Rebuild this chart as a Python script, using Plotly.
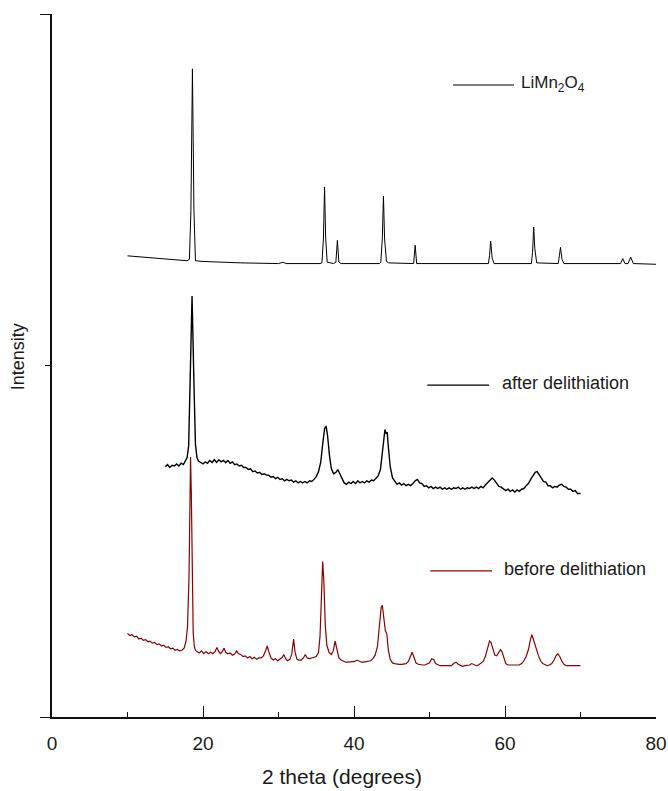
import plotly.graph_objects as go

# ---- XRD patterns (2-theta in degrees, intensity in stacked arbitrary units) ----

limn2o4_x = [10.0, 12.0, 14.0, 16.0, 17.9, 18.2, 18.4, 18.6, 18.8, 19.0, 20.0, 25.0,
             30.0, 30.6, 31.0, 35.5, 35.75, 35.95, 36.1, 36.25, 36.45, 37.3, 37.6, 37.8,
             38.0, 38.3, 43.4, 43.55, 43.75, 43.9, 44.05, 44.3, 44.6, 47.9, 48.1, 48.3,
             57.8, 57.95, 58.1, 58.3, 58.55, 63.5, 63.65, 63.8, 63.95, 64.2, 67.05, 67.2,
             67.35, 67.55, 67.8, 75.3, 75.6, 75.9, 76.3, 76.65, 77.0, 80.0]
limn2o4_y = [65.6, 65.4, 65.2, 65.0, 64.9, 65.1, 72.0, 92.2, 72.0, 64.9, 64.8, 64.6,
             64.5, 64.7, 64.5, 64.5, 64.6, 68.0, 75.4, 68.0, 64.7, 64.5, 64.7, 67.8,
             64.7, 64.5, 64.5, 64.7, 68.0, 74.1, 68.0, 64.8, 64.6, 64.5, 67.1, 64.5,
             64.5, 65.6, 67.7, 65.3, 64.5, 64.5, 66.1, 69.7, 66.6, 64.6, 64.5, 65.6,
             66.8, 65.1, 64.5, 64.5, 65.2, 64.5, 64.5, 65.4, 64.5, 64.4]

after_x = [15.0, 15.3, 15.6, 15.9, 16.2, 16.5, 16.8, 17.1, 17.4, 17.7, 17.9, 18.1,
           18.3, 18.55, 18.8, 19.0, 19.2, 19.4, 19.7, 20.0, 20.3, 20.6, 20.9, 21.2,
           21.5, 21.8, 22.1, 22.4, 22.7, 23.0, 23.3, 23.6, 23.9, 24.2, 24.5, 24.8,
           25.1, 25.4, 25.7, 26.0, 26.3, 26.6, 26.9, 27.2, 27.5, 27.8, 28.1, 28.4,
           28.7, 29.0, 29.3, 29.6, 29.9, 30.2, 30.5, 30.8, 31.1, 31.4, 31.7, 32.0,
           32.3, 32.6, 32.9, 33.2, 33.5, 33.8, 34.1, 34.4, 34.7, 35.0, 35.3, 35.6,
           35.85, 36.1, 36.3, 36.5, 36.75, 37.0, 37.3, 37.6, 37.85, 38.1, 38.4, 38.7,
           39.0, 39.3, 39.6, 39.9, 40.2, 40.5, 40.8, 41.1, 41.4, 41.7, 42.0, 42.3,
           42.6, 42.9, 43.2, 43.5, 43.75, 43.95, 44.1, 44.25, 44.4, 44.55, 44.8, 45.1,
           45.4, 45.7, 46.0, 46.3, 46.6, 46.9, 47.2, 47.5, 47.8, 48.1, 48.4, 48.7,
           49.0, 49.3, 49.6, 49.9, 50.2, 50.5, 50.8, 51.1, 51.4, 51.7, 52.0, 52.3,
           52.6, 52.9, 53.2, 53.5, 53.8, 54.1, 54.4, 54.7, 55.0, 55.3, 55.6, 55.9,
           56.2, 56.5, 56.8, 57.1, 57.4, 57.7, 58.0, 58.3, 58.6, 58.9, 59.2, 59.5,
           59.8, 60.1, 60.4, 60.7, 61.0, 61.3, 61.6, 61.9, 62.2, 62.5, 62.8, 63.1,
           63.4, 63.7, 64.0, 64.25, 64.5, 64.8, 65.1, 65.4, 65.7, 66.0, 66.3, 66.6,
           66.9, 67.2, 67.5, 67.8, 68.1, 68.4, 68.7, 69.0, 69.3, 69.6, 70.0]
after_y = [35.6, 35.9, 35.5, 35.8, 35.7, 36.0, 35.7, 36.1, 35.9, 36.4, 36.9, 38.6,
           47.0, 59.9, 47.5, 38.8, 36.9, 36.4, 36.2, 36.0, 36.3, 36.1, 36.5, 36.2,
           36.6, 36.2, 36.6, 36.3, 36.5, 36.2, 36.5, 36.1, 36.3, 35.9, 36.0, 35.7,
           35.8, 35.5, 35.5, 35.2, 35.3, 34.9, 35.0, 34.7, 34.8, 34.5, 34.6, 34.4,
           34.4, 34.1, 34.2, 33.9, 34.1, 33.8, 33.9, 33.6, 33.8, 33.6, 33.7, 33.4,
           33.6, 33.3, 33.5, 33.3, 33.5, 33.3, 33.6, 33.5, 33.8, 34.2, 34.9, 36.3,
           38.8, 41.0, 41.4, 40.0, 37.2, 35.3, 34.6, 34.8, 35.2, 34.7, 33.9, 33.3,
           33.1, 33.4, 33.2, 33.5, 33.2, 33.6, 33.3, 33.5, 33.3, 33.6, 33.4, 33.7,
           33.6, 33.9, 34.3, 35.2, 37.3, 39.8, 40.9, 40.3, 40.5, 38.4, 35.6, 34.0,
           33.5, 33.1, 33.3, 33.0, 33.2, 32.9, 33.1, 32.9, 33.2, 33.6, 33.8, 33.3,
           33.2, 32.8, 32.9, 32.6, 32.8, 32.5, 32.7, 32.5, 32.7, 32.4, 32.6, 32.4,
           32.6, 32.4, 32.6, 32.5, 32.7, 32.4, 32.6, 32.4, 32.6, 32.5, 32.7, 32.5,
           32.7, 32.5, 32.8, 32.6, 33.0, 33.3, 33.7, 34.0, 33.7, 33.2, 32.8, 32.7,
           32.4, 32.2, 32.4, 32.1, 32.3, 32.0, 32.3, 32.1, 32.4, 32.5, 32.9, 33.2,
           33.8, 34.4, 34.8, 34.9, 34.5, 34.1, 33.5, 33.4, 32.9, 32.9, 32.6, 32.8,
           32.7, 33.0, 33.1, 32.8, 32.7, 32.4, 32.4, 32.1, 32.2, 31.8, 31.8]

before_x = [10.0, 10.3, 10.6, 10.9, 11.2, 11.5, 11.8, 12.1, 12.4, 12.7, 13.0, 13.3,
            13.6, 13.9, 14.2, 14.5, 14.8, 15.1, 15.4, 15.7, 16.0, 16.3, 16.6, 16.9,
            17.2, 17.5, 17.75, 17.95, 18.15, 18.25, 18.35, 18.45, 18.55, 18.7, 18.85, 19.0,
            19.2, 19.5, 19.8, 20.1, 20.4, 20.7, 21.0, 21.3, 21.6, 21.85, 22.05, 22.3,
            22.55, 22.8, 23.0, 23.3, 23.6, 23.9, 24.2, 24.45, 24.7, 25.0, 25.3, 25.6,
            25.9, 26.2, 26.5, 26.8, 27.1, 27.4, 27.7, 28.0, 28.25, 28.5, 28.75, 29.0,
            29.3, 29.6, 29.9, 30.2, 30.5, 30.7, 30.95, 31.2, 31.5, 31.75, 32.0, 32.2,
            32.45, 32.7, 33.0, 33.3, 33.55, 33.8, 34.1, 34.4, 34.7, 35.0, 35.3, 35.5,
            35.7, 35.85, 36.0, 36.2, 36.4, 36.7, 37.0, 37.25, 37.5, 37.75, 38.0, 38.3,
            38.6, 38.9, 39.2, 39.5, 39.8, 40.1, 40.4, 40.7, 41.0, 41.3, 41.6, 41.9,
            42.2, 42.5, 42.8, 43.1, 43.35, 43.6, 43.75, 43.95, 44.15, 44.35, 44.55, 44.8,
            45.1, 45.4, 45.7, 46.0, 46.3, 46.6, 46.9, 47.2, 47.45, 47.7, 47.95, 48.2,
            48.5, 48.8, 49.1, 49.4, 49.7, 50.0, 50.3, 50.55, 50.8, 51.1, 51.4, 51.7,
            52.0, 52.3, 52.6, 52.9, 53.2, 53.5, 53.8, 54.1, 54.4, 54.7, 55.0, 55.3,
            55.6, 55.9, 56.2, 56.5, 56.8, 57.1, 57.4, 57.7, 57.95, 58.15, 58.4, 58.65,
            58.9, 59.15, 59.4, 59.6, 59.85, 60.1, 60.4, 60.7, 61.0, 61.3, 61.6, 61.9,
            62.2, 62.5, 62.8, 63.1, 63.35, 63.55, 63.75, 63.95, 64.15, 64.4, 64.7, 65.0,
            65.3, 65.6, 65.9, 66.2, 66.5, 66.75, 67.0, 67.25, 67.5, 67.8, 68.1, 68.4,
            68.7, 69.0, 69.3, 69.6, 70.0]
before_y = [11.9, 11.6, 11.7, 11.4, 11.5, 11.1, 11.2, 10.9, 11.0, 10.7, 10.8, 10.5,
            10.6, 10.3, 10.4, 10.1, 10.2, 9.9, 10.0, 9.7, 9.8, 9.5, 9.6, 9.4,
            9.5, 9.8, 10.8, 12.8, 20.0, 32.0, 37.0, 32.0, 20.0, 12.0, 10.0, 9.5,
            9.3, 9.1, 9.4, 9.0, 9.3, 9.0, 9.2, 9.0, 9.3, 9.9, 9.4, 9.0,
            9.3, 9.8, 9.2, 9.0, 9.1, 8.8, 9.0, 9.4, 9.0, 8.9, 8.6, 8.7,
            8.4, 8.6, 8.3, 8.5, 8.2, 8.4, 8.4, 8.7, 9.3, 10.1, 9.2, 8.4,
            8.1, 8.3, 8.0, 8.2, 8.5, 8.9, 8.3, 8.0, 8.2, 8.9, 11.1, 9.2,
            8.2, 8.1, 8.1, 8.4, 8.9, 8.4, 8.3, 8.4, 8.5, 8.6, 9.2, 11.5,
            17.5, 22.1, 19.5, 13.0, 10.2, 9.2, 8.9, 9.4, 10.8, 9.4, 8.4, 8.1,
            7.9, 7.8, 7.8, 7.8, 7.8, 7.9, 8.1, 7.9, 7.8, 7.8, 7.9, 7.9,
            8.0, 8.3, 8.8, 10.0, 12.8, 15.6, 15.9, 14.0, 12.3, 11.8, 9.5, 8.2,
            7.7, 7.6, 7.5, 7.5, 7.5, 7.5, 7.6, 7.9, 8.6, 9.2, 8.5, 7.7,
            7.5, 7.4, 7.4, 7.4, 7.5, 7.7, 8.3, 8.2, 7.6, 7.4, 7.3, 7.3,
            7.3, 7.3, 7.3, 7.3, 7.6, 7.8, 7.5, 7.3, 7.2, 7.3, 7.3, 7.4,
            7.6, 7.4, 7.3, 7.4, 7.6, 7.9, 8.6, 9.8, 10.8, 10.6, 9.5, 8.8,
            8.7, 9.2, 9.6, 9.3, 8.3, 7.6, 7.4, 7.4, 7.3, 7.3, 7.3, 7.4,
            7.6, 8.0, 8.6, 9.6, 10.9, 11.7, 11.1, 10.2, 9.7, 8.8, 8.0, 7.6,
            7.4, 7.3, 7.4, 7.6, 8.1, 8.7, 9.0, 8.6, 8.0, 7.5, 7.3, 7.3,
            7.3, 7.3, 7.2, 7.3, 7.3]

series_names = ["LiMn<sub>2</sub>O<sub>4</sub>", "after delithiation", "before delithiation"]
series_colors = ["#000000", "#000000", "#8b0000"]

FONT = "Arial, 'Liberation Sans', sans-serif"
TEXT = "#1a1a1a"

fig = go.Figure()
for xs, ys, name, color, width in [
    (limn2o4_x, limn2o4_y, series_names[0], series_colors[0], 1.0),
    (after_x, after_y, series_names[1], series_colors[1], 1.4),
    (before_x, before_y, series_names[2], series_colors[2], 1.2),
]:
    fig.add_trace(go.Scatter(x=xs, y=ys, mode="lines", name=name,
                             line=dict(color=color, width=width),
                             showlegend=False, hoverinfo="skip"))

# In-plot key: a short line sample followed by the series label
key_rows = [
    # (line x0, line x1, line y, label x, label y, label size)
    (53.1, 61.2, 89.9, 61.9, 90.1, 17),
    (49.7, 57.9, 47.2, 59.3, 47.5, 18),
    (50.1, 58.3, 20.8, 59.6, 21.1, 18),
]
for (x0, x1, ly, tx, ty, fs), name, color in zip(key_rows, series_names, series_colors):
    fig.add_shape(type="line", xref="x", yref="y", x0=x0, x1=x1, y0=ly, y1=ly,
                  line=dict(color=color, width=1.2))
    fig.add_annotation(x=tx, y=ty, xref="x", yref="y", text=name, showarrow=False,
                       xanchor="left", yanchor="middle",
                       font=dict(family=FONT, size=fs, color=TEXT))

# Axis titles, placed as free text beside the axes
fig.add_annotation(x=0.480, y=-0.084, xref="paper", yref="paper",
                   text="2 theta (degrees)", showarrow=False,
                   xanchor="center", yanchor="middle",
                   font=dict(family=FONT, size=21, color=TEXT))
fig.add_annotation(x=-0.056, y=0.512, xref="paper", yref="paper",
                   text="Intensity", showarrow=False, textangle=-90,
                   xanchor="center", yanchor="middle",
                   font=dict(family=FONT, size=18, color=TEXT))

fig.update_layout(
    width=668, height=791, autosize=False,
    margin=dict(l=52, r=12, t=14, b=74),
    paper_bgcolor="white", plot_bgcolor="white",
    font=dict(family=FONT, size=19, color=TEXT),
)
fig.update_xaxes(
    range=[0, 80], tick0=0, dtick=20, automargin=False,
    showline=True, linecolor="#111111", linewidth=1.5,
    ticks="inside", ticklen=11, tickwidth=1.3, tickcolor="#111111",
    minor=dict(dtick=10, ticks="inside", ticklen=5, tickwidth=1.2, tickcolor="#111111"),
    showgrid=False, zeroline=False,
    tickfont=dict(family=FONT, size=19, color=TEXT), ticklabelstandoff=8,
)
fig.update_yaxes(
    range=[0, 100], tick0=0, dtick=100, automargin=False,
    showline=True, linecolor="#111111", linewidth=1.5,
    ticks="outside", ticklen=10, tickwidth=1.3, tickcolor="#111111",
    minor=dict(dtick=50, ticks="outside", ticklen=5, tickwidth=1.2, tickcolor="#111111"),
    showgrid=False, zeroline=False, showticklabels=False,
)

fig.write_html("out.html")
